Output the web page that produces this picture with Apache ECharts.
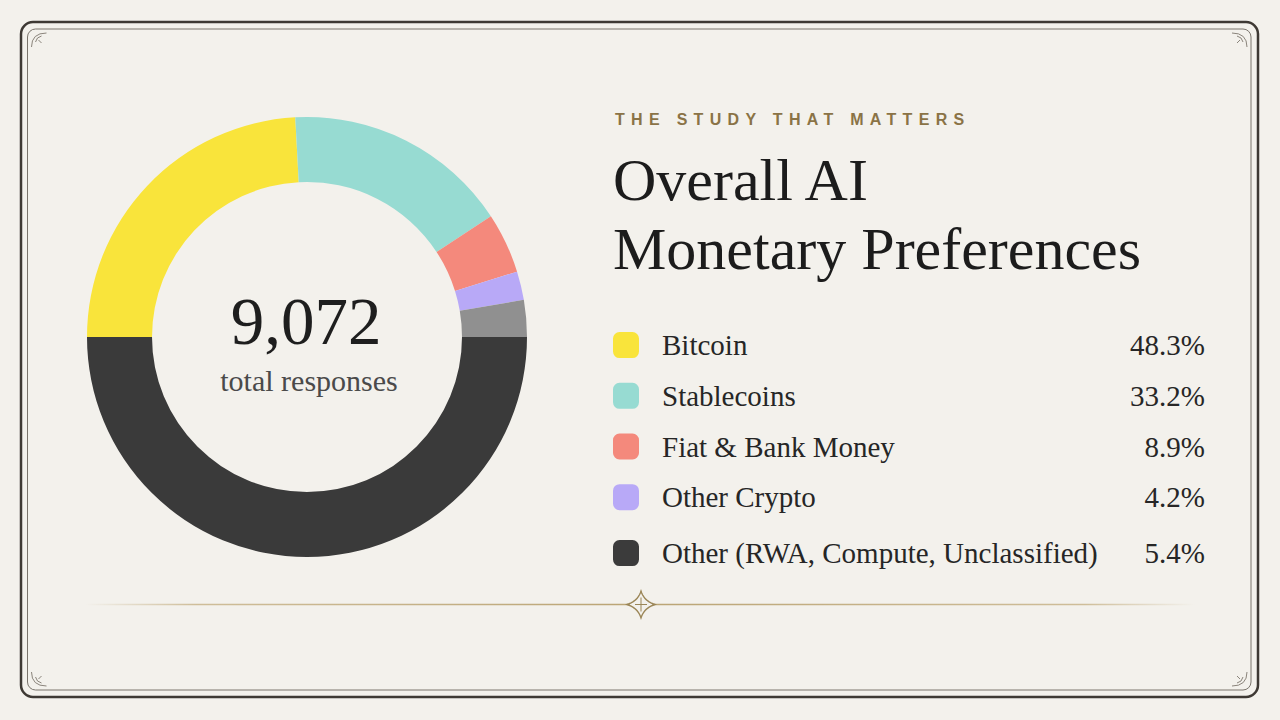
<!DOCTYPE html>
<html>
<head>
<meta charset="utf-8">
<script src="https://cdn.jsdelivr.net/npm/echarts@6/dist/echarts.min.js"></script>
<style>
html,body{margin:0;padding:0;background:#f3f1ec;}
#c{width:1280px;height:720px;}
</style>
</head>
<body>
<div id="c"></div>
<script>
// ---- data ----
const categories = ['Bitcoin', 'Stablecoins', 'Fiat & Bank Money', 'Other Crypto', 'Other (RWA, Compute, Unclassified)'];
const shares = [48.3, 33.2, 8.9, 4.2, 5.4];
const shareLabels = ['48.3%', '33.2%', '8.9%', '4.2%', '5.4%'];
const remainder = [100];            // dark lower half of the ring
const totalResponses = ['9,072'];
const totalLabel = ['total responses'];
const eyebrow = ['THE STUDY THAT MATTERS'];
const titleLines = ['Overall AI', 'Monetary Preferences'];

// ---- styles ----
const sliceColors = ['#f9e43b', '#97dbd2', '#f4897c', '#b8a9f7', '#909090'];
const legendColors = ['#f9e43b', '#97dbd2', '#f4897c', '#b8a9f7', '#3b3b3b'];
const ringDark = '#3a3a3a';
const SERIF = '"Liberation Serif", "DejaVu Serif", serif';
const gold = '#9b8657';
const paper = '#f3f1ec';

const pieData = categories.map((n, i) => ({ name: n, value: shares[i], itemStyle: { color: sliceColors[i] } }));
pieData.push({ name: 'remainder', value: remainder[0], itemStyle: { color: ringDark } });

function legendItem(i) { return { name: categories[i], itemStyle: { color: legendColors[i] } }; }
const legendRich = {
  n: { fontFamily: SERIF, fontSize: 29, lineHeight: 26, color: '#262626', width: 463, padding: [0, 0, 0, 18] },
  v: { fontFamily: SERIF, fontSize: 29, lineHeight: 26, color: '#262626', width: 80, align: 'right' }
};
function legendFmt(name) {
  return '{n|' + name + '}{v|' + shareLabels[categories.indexOf(name)] + '}';
}
const legendBase = {
  orient: 'vertical', left: 613, padding: 0, icon: 'roundRect', itemWidth: 26, itemHeight: 26,
  selectedMode: false, formatter: legendFmt,
  textStyle: { fontFamily: SERIF, fontSize: 29, color: '#262626', lineHeight: 26, rich: legendRich }
};

// quadratic-curve outline for the small ornament (decoration only)
function quadPts(p0, c, p1, n) {
  const out = [];
  for (let k = 0; k < n; k++) {
    const t = k / n, u = 1 - t;
    out.push([u * u * p0[0] + 2 * u * t * c[0] + t * t * p1[0], u * u * p0[1] + 2 * u * t * c[1] + t * t * p1[1]]);
  }
  return out;
}
const cx = 641, cy = 604.5;
const starPts = [].concat(
  quadPts([cx, cy - 13.5], [cx + 3, cy - 3.5], [cx + 14, cy], 10),
  quadPts([cx + 14, cy], [cx + 3, cy + 3.5], [cx, cy + 13.5], 10),
  quadPts([cx, cy + 13.5], [cx - 3, cy + 3.5], [cx - 14, cy], 10),
  quadPts([cx - 14, cy], [cx - 3, cy - 3.5], [cx, cy - 13.5], 10)
);

function flourish(x, y, sx, sy) {
  const ls = { fill: 'none', stroke: '#8a847b', lineWidth: 1 };
  return [
    { type: 'bezierCurve', silent: true, shape: { x1: x + sx * 4, y1: y + sy * 18, x2: x + sx * 19, y2: y + sy * 4, cpx1: x + sx * 4, cpy1: y + sy * 4 }, style: ls },
    { type: 'bezierCurve', silent: true, shape: { x1: x + sx * 8, y1: y + sy * 13, x2: x + sx * 14, y2: y + sy * 7, cpx1: x + sx * 9, cpy1: y + sy * 8 }, style: ls },
    { type: 'line', silent: true, shape: { x1: x + sx * 11, y1: y + sy * 11, x2: x + sx * 14, y2: y + sy * 14 }, style: ls }
  ];
}

const graphics = [
  // frame
  { type: 'rect', shape: { x: 21, y: 22, width: 1237, height: 675, r: 12 }, style: { fill: 'none', stroke: '#3e3934', lineWidth: 2.5 }, silent: true },
  { type: 'rect', shape: { x: 27.5, y: 29, width: 1223.5, height: 661, r: 8 }, style: { fill: 'none', stroke: '#7a746c', lineWidth: 1 }, silent: true }
].concat(
  flourish(27.5, 29, 1, 1), flourish(1251, 29, -1, 1), flourish(27.5, 690, 1, -1), flourish(1251, 690, -1, -1)
).concat([
  // divider
  { type: 'rect', shape: { x: 85, y: 603.8, width: 1110, height: 1.5 }, silent: true,
    style: { fill: new echarts.graphic.LinearGradient(0, 0, 1, 0, [
      { offset: 0, color: 'rgba(200,180,138,0)' }, { offset: 0.1, color: 'rgba(200,180,138,0.85)' },
      { offset: 0.5, color: 'rgba(186,164,116,1)' }, { offset: 0.9, color: 'rgba(200,180,138,0.85)' },
      { offset: 1, color: 'rgba(200,180,138,0)' }]) } },
  { type: 'polygon', silent: true, shape: { points: starPts }, style: { fill: paper, stroke: gold, lineWidth: 1.4 } },
  { type: 'line', silent: true, shape: { x1: cx, y1: cy - 7, x2: cx, y2: cy + 7 }, style: { stroke: gold, lineWidth: 1 } },
  { type: 'line', silent: true, shape: { x1: cx - 6, y1: cy, x2: cx + 6, y2: cy }, style: { stroke: gold, lineWidth: 1 } },
  // centre texts
  { type: 'text', x: 306, y: 321, silent: true, style: { text: totalResponses[0], fontFamily: SERIF, fontSize: 67, fill: '#1e1e1e', align: 'center', verticalAlign: 'middle' } },
  { type: 'text', x: 309, y: 380, silent: true, style: { text: totalLabel[0], fontFamily: SERIF, fontSize: 30, fill: '#4a4a4a', align: 'center', verticalAlign: 'middle' } },
  // heading
  { type: 'text', x: 615, y: 119, silent: true, style: { text: eyebrow[0], fontFamily: '"Liberation Sans", Arial, sans-serif', fontWeight: 'bold', fontSize: 16, fill: '#8a7346', align: 'left', verticalAlign: 'middle' } },
  { type: 'text', x: 613, y: 180, silent: true, style: { text: titleLines[0], fontFamily: SERIF, fontSize: 60, fill: '#1c1c1c', align: 'left', verticalAlign: 'middle' } },
  { type: 'text', x: 613, y: 249, silent: true, style: { text: titleLines[1], fontFamily: SERIF, fontSize: 60, fill: '#1c1c1c', align: 'left', verticalAlign: 'middle' } }
]);

const chart = echarts.init(document.getElementById('c'), null, { renderer: 'svg' });
chart.setOption({
  animation: false,
  backgroundColor: paper,
  legend: [
    Object.assign({}, legendBase, { top: 330.6, itemGap: 21.7, data: [0, 1, 2, 3].map(legendItem) }),
    Object.assign({}, legendBase, { top: 538.6, data: [4].map(legendItem) })
  ],
  series: [{
    type: 'pie',
    center: [307, 337],
    radius: [155, 220],
    startAngle: 180,
    clockwise: true,
    silent: true,
    label: { show: false },
    labelLine: { show: false },
    emphasis: { disabled: true },
    itemStyle: { borderWidth: 0 },
    data: pieData
  }],
  graphic: graphics
});

function spaceEyebrow() {
  document.querySelectorAll('#c svg text').forEach(t => {
    if (t.textContent === eyebrow[0]) t.setAttribute('letter-spacing', '6.3');
  });
}
spaceEyebrow();
chart.on('finished', spaceEyebrow);
setTimeout(spaceEyebrow, 50);
</script>
</body>
</html>
